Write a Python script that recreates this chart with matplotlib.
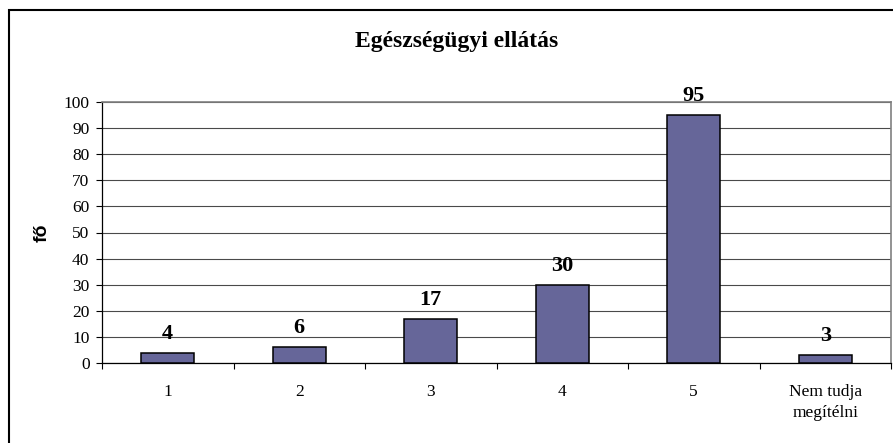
import matplotlib.pyplot as plt
from matplotlib.patches import Rectangle
import numpy as np

# adatok
categories = ['1', '2', '3', '4', '5', 'Nem tudja\nmegítélni']
values = [4, 6, 17, 30, 95, 3]
y_ticks = list(range(0, 101, 10))
title = 'Egészségügyi ellátás'
y_label = 'fő'

W, H = 893, 443
fig = plt.figure(figsize=(W / 100, H / 100), dpi=100)

# keret a diagram körül
fig.patches.append(Rectangle((8.5 / W, -0.1), 1.2, 1 - 10.5 / H + 0.1,
                             transform=fig.transFigure, fill=False,
                             ec='black', lw=1.5))

left, right, top, bottom = 102, 891, 102, 363
ax = fig.add_axes([left / W, 1 - bottom / H, (right - left) / W, (bottom - top) / H])

x = np.arange(len(categories))
ax.bar(x, values, width=0.4, color='#666699', edgecolor='black', linewidth=1.1, zorder=3)

for xi, v in zip(x, values):
    ax.annotate(str(v), (xi, v), xytext=(0, 10), textcoords='offset points',
                ha='center', va='baseline', fontsize=16, fontweight='bold',
                family='Liberation Serif', zorder=4)

ax.set_xlim(-0.5, len(categories) - 0.5)
ax.set_ylim(0, 100)
ax.set_yticks(y_ticks)
ax.yaxis.grid(True, color='#4a4a4a', lw=0.8, zorder=0)
ax.set_axisbelow(True)

ax.set_xticks(x)
ax.set_xticklabels(categories, family='Liberation Serif', fontsize=12.5, linespacing=1.4)
ax.set_xticks(np.arange(len(categories) + 1) - 0.5, minor=True)
ax.tick_params(axis='x', which='major', length=0, pad=15)
ax.tick_params(axis='x', which='minor', length=4, width=0.8, direction='out')
ax.tick_params(axis='y', length=4, width=0.8, pad=5, labelsize=12.5)
for lab in ax.get_yticklabels():
    lab.set_family('Liberation Serif')

for s in ['left', 'bottom']:
    ax.spines[s].set_color('black')
    ax.spines[s].set_linewidth(0.9)
for s in ['top', 'right']:
    ax.spines[s].set_color('#808080')
    ax.spines[s].set_linewidth(1.2)

fig.text(457 / W, 1 - 42 / H, title, ha='center', va='center',
         fontsize=17, fontweight='bold', family='Liberation Serif')
fig.text(42 / W, 1 - 233 / H, y_label, rotation=90, ha='center', va='center',
         fontsize=14, fontweight='bold', family='Liberation Sans')

fig.savefig('out.png', dpi=100)
